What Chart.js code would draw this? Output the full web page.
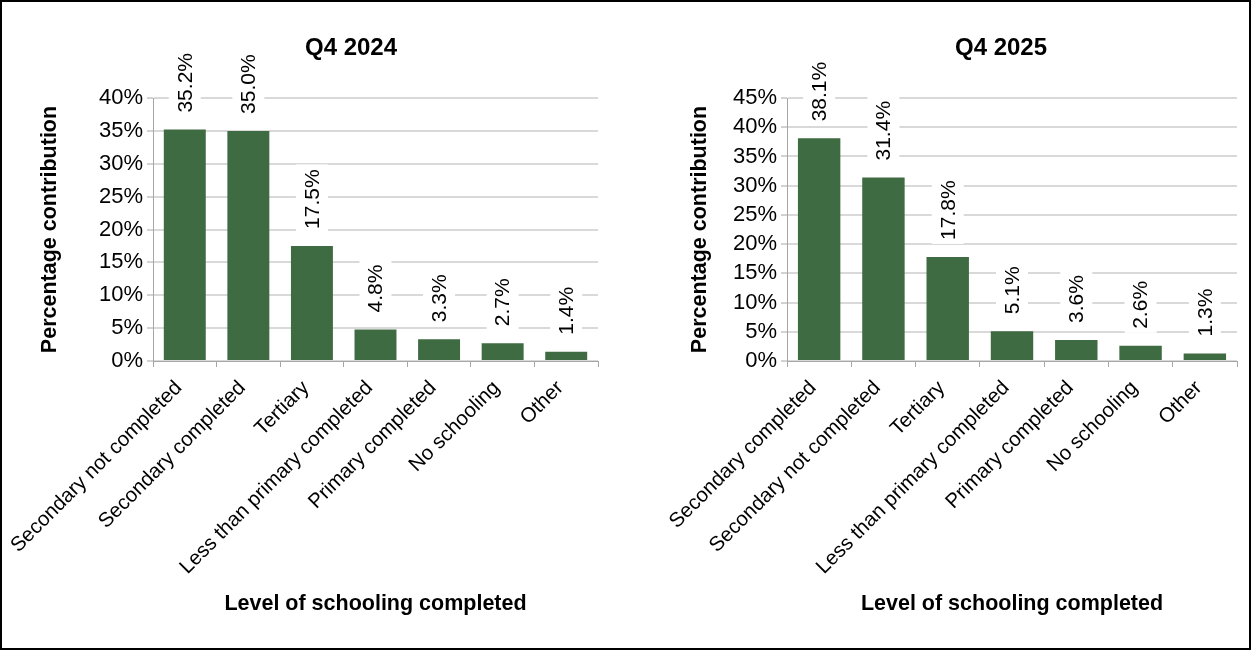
<!DOCTYPE html>
<html>
<head>
<meta charset="utf-8">
<title>Percentage contribution by level of schooling completed</title>
<script src="https://cdn.jsdelivr.net/npm/chart.js@4.4.1/dist/chart.umd.min.js"></script>
<style>
  html, body { margin: 0; padding: 0; background: #fff; }
  #wrap { position: relative; width: 1251px; height: 650px; overflow: hidden; background: #fff; }
  #wrap canvas { position: absolute; top: 0; }
  #frame { position: absolute; left: 0; top: 0; width: 1251px; height: 650px; box-sizing: border-box;
           border: 2px solid #000; pointer-events: none; }
</style>
</head>
<body>
<div id="wrap">
  <canvas id="chart2024" width="625" height="650" style="left:0px"></canvas>
  <canvas id="chart2025" width="626" height="650" style="left:625px"></canvas>
  <div id="frame"></div>
</div>
<script>
// ---- data ----
const categories2024 = ["Secondary not completed", "Secondary completed", "Tertiary",
  "Less than primary completed", "Primary completed", "No schooling", "Other"];
const values2024 = [35.2, 35.0, 17.5, 4.8, 3.3, 2.7, 1.4];
const yTicks2024 = [0, 5, 10, 15, 20, 25, 30, 35, 40];

const categories2025 = ["Secondary completed", "Secondary not completed", "Tertiary",
  "Less than primary completed", "Primary completed", "No schooling", "Other"];
const values2025 = [38.1, 31.4, 17.8, 5.1, 3.6, 2.6, 1.3];
const yTicks2025 = [0, 5, 10, 15, 20, 25, 30, 35, 40, 45];

const titles = ["Q4 2024", "Q4 2025"];
const yAxisTitle = "Percentage contribution";
const xAxisTitle = "Level of schooling completed";

// ---- style ----
const FONT = "'Liberation Sans', Arial, Helvetica, sans-serif";
const BAR_COLOR = "#3e6b42";
const GRID_COLOR = "#d9d9d9";
const AXIS_COLOR = "#a6a6a6";

Chart.defaults.font.family = FONT;
Chart.defaults.color = "#000";

// Chart title and rotated value labels (on a white box that breaks the gridlines)
const decorations = {
  id: "decorations",
  afterDatasetsDraw(chart, args, opts) {
    const ctx = chart.ctx;
    const meta = chart.getDatasetMeta(0);
    const values = chart.data.datasets[0].data;
    ctx.save();
    ctx.font = "21px " + FONT;
    meta.data.forEach((bar, i) => {
      const text = values[i].toFixed(1) + "%";
      const w = ctx.measureText(text).width;
      const base = bar.y - 17;
      ctx.fillStyle = "#fff";
      ctx.fillRect(bar.x - 16, base - w - 5, 32, w + 9);
      ctx.save();
      ctx.translate(bar.x, base);
      ctx.rotate(-Math.PI / 2);
      ctx.fillStyle = "#000";
      ctx.textAlign = "left";
      ctx.textBaseline = "middle";
      ctx.fillText(text, 0, 1);
      ctx.restore();
    });
    // chart title
    ctx.font = "bold 24px " + FONT;
    ctx.fillStyle = "#000";
    ctx.textAlign = "center";
    ctx.textBaseline = "middle";
    ctx.fillText(opts.title, opts.titleX, 48);
    ctx.restore();
  }
};

function makeChart(id, labels, values, yTicks, title, o) {
  const yMax = yTicks[yTicks.length - 1];
  const yStep = yTicks[1] - yTicks[0];
  return new Chart(document.getElementById(id), {
    type: "bar",
    data: {
      labels: labels,
      datasets: [{
        data: values,
        backgroundColor: BAR_COLOR,
        borderWidth: 0,
        categoryPercentage: 1.0,
        barPercentage: 0.66
      }]
    },
    options: {
      responsive: false,
      animation: false,
      devicePixelRatio: 1,
      layout: { padding: { left: 0, top: 98, right: o.padRight, bottom: 0 } },
      plugins: {
        legend: { display: false },
        tooltip: { enabled: false },
        decorations: { title: title, titleX: o.titleX }
      },
      scales: {
        x: {
          grid: { display: true, drawOnChartArea: false, drawTicks: true, tickLength: 6,
                  tickColor: AXIS_COLOR, tickWidth: 1, offset: true },
          border: { display: true, color: AXIS_COLOR, width: 1 },
          ticks: { autoSkip: false, maxRotation: 45, minRotation: 45, padding: 9, labelOffset: -6,
                   font: { size: 20.5 }, color: "#000" },
          title: { display: true, text: xAxisTitle, font: { size: 21.5, weight: "bold" },
                   color: "#000", padding: { top: 0, bottom: 33 } },
          afterFit(scale) { scale.height = 289; scale.paddingLeft = 0; scale.paddingRight = 0; }
        },
        y: {
          min: 0, max: yMax,
          grid: { color: GRID_COLOR, lineWidth: 2, drawTicks: true, tickLength: 6,
                  tickColor: AXIS_COLOR, tickWidth: 1 },
          border: { display: true, color: AXIS_COLOR, width: 1 },
          ticks: { stepSize: yStep, autoSkip: false, padding: 4, font: { size: 22 }, color: "#000",
                   callback: v => v + "%" },
          title: { display: true, text: yAxisTitle, font: { size: 21.5, weight: "bold" },
                   color: "#000", padding: { top: o.yTitlePad, bottom: 0 } },
          afterFit(scale) { scale.width = o.yWidth; scale.paddingTop = 0; scale.paddingBottom = 0; }
        }
      }
    },
    plugins: [decorations]
  });
}

makeChart("chart2024", categories2024, values2024, yTicks2024, titles[0],
  { padRight: 27, yWidth: 153, titleX: 351, yTitlePad: 37 });
makeChart("chart2025", categories2025, values2025, yTicks2025, titles[1],
  { padRight: 14, yWidth: 162, titleX: 376, yTitlePad: 62 });
</script>
</body>
</html>
